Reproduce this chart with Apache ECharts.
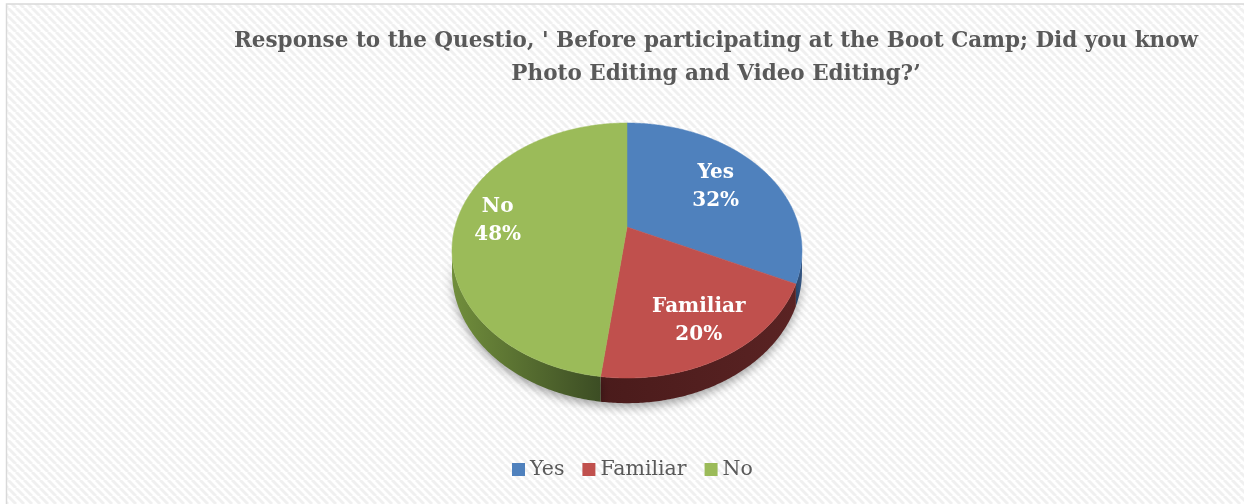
<!DOCTYPE html>
<html><head><meta charset="utf-8">
<script src="https://cdn.jsdelivr.net/npm/echarts@6/dist/echarts.min.js"></script>
<style>html,body{margin:0;padding:0;background:#fff}#c{width:1244px;height:504px}</style>
</head><body><div id="c"></div>
<script>
// ---- data ----
const categories = ['Yes', 'Familiar', 'No'];
const values = [32, 20, 48];
const titleLines = ["Response to the Questio, ' Before participating at the Boot Camp; Did you know", "Photo Editing and Video Editing?’"];

// ---- styles ----
const topColors = ['#4F81BD', '#C0504D', '#9BBB59'];
const wallColors = [['#2c4a70', '#345683'], ['#4a1b1b', '#5a2323'], ['#718e3c', '#3c4d24']];
const labelRadius = [0.65, 0.76, 0.76];
const FONT = 'DejaVu Serif';

const total = values.reduce((a, b) => a + b, 0);
const starts = [];
{ let acc = 0; values.forEach(v => { starts.push(acc); acc += v; }); }

// perspective pie geometry
const CX = 627, CY = 227, A = 172, B = 123.2, P = 0.1843, H = 20.5;
function proj(t, k, down) {
  const X = k * Math.sin(t), Z = k * Math.cos(t), d = 1 + P * Z;
  return [CX + A * X / d, CY - B * Z / d + (down ? H / d : 0)];
}
const TR = Math.acos(-P), TL = 2 * Math.PI - TR;

function arcPts(s, e, k, down) {
  const pts = [], n = Math.max(2, Math.ceil((e - s) / 0.01));
  for (let j = 0; j <= n; j++) pts.push(proj(s + (e - s) * j / n, k, down));
  return pts;
}

function makeRender(i) {
  return function (params, api) {
    const s0 = api.value(0), v = api.value(1);
    const s = s0 / total * 2 * Math.PI, e = (s0 + v) / total * 2 * Math.PI;
    const children = [];
    // side wall (front visible part)
    const ws = Math.max(s, TR), we = Math.min(e, TL);
    if (we > ws) {
      const topA = arcPts(ws, we, 1, false), botA = arcPts(ws, we, 1, true).reverse();
      const xs = topA.map(p => p[0]);
      const x1 = Math.min(...xs), x2 = Math.max(...xs);
      children.push({
        type: 'polygon', z2: 1,
        shape: { points: topA.concat(botA) },
        style: {
          fill: { type: 'linear', x: x1, y: 0, x2: x2, y2: 0, global: true,
            colorStops: [{ offset: 0, color: wallColors[i][0] }, { offset: 1, color: wallColors[i][1] }] },
          shadowBlur: 10, shadowColor: 'rgba(0,0,0,0.35)', shadowOffsetY: 4
        }
      });
    }
    // top face
    const pts = [proj(0, 0, false)].concat(arcPts(s, e, 1, false));
    children.push({ type: 'polygon', z2: 10, shape: { points: pts },
      style: { fill: topColors[i], stroke: topColors[i], lineWidth: 0.5 } });
    // label
    const mid = (s + e) / 2, lp = proj(mid, labelRadius[i], false);
    const pct = Math.round(v / total * 100);
    children.push({ type: 'text', z2: 20, x: lp[0], y: lp[1],
      style: { text: categories[i] + '\n' + pct + '%', fill: '#fff', align: 'center', verticalAlign: 'middle',
        font: 'bold 20px "' + FONT + '"', lineHeight: 28 } });
    return { type: 'group', children };
  };
}

// stripe pattern
const pc = document.createElement('canvas');
pc.width = 8; pc.height = 8;
{ const g = pc.getContext('2d'); g.fillStyle = '#ffffff'; g.fillRect(0, 0, 8, 8);
  g.strokeStyle = '#f0f0f0'; g.lineWidth = 3;
  for (const x of [-8, 0, 8]) { g.beginPath(); g.moveTo(x, 0); g.lineTo(x + 8, 8); g.stroke(); } }

const chart = echarts.init(document.getElementById('c'));
chart.setOption({
  animation: false,
  backgroundColor: '#ffffff',
  graphic: [{ type: 'rect', z: -10, silent: true, shape: { x: 6.5, y: 4, width: 1260, height: 520 },
    style: { fill: { image: pc, repeat: 'repeat' }, stroke: '#d9d9d9', lineWidth: 1.5 } }],
  title: { text: titleLines.join('\n'), left: 711, top: 20, textAlign: 'center',
    textStyle: { fontFamily: FONT, fontWeight: 'bold', fontSize: 21.5, color: '#595959', lineHeight: 33 } },
  legend: { data: categories, left: 507, top: 454, icon: 'rect', itemWidth: 13, itemHeight: 13, itemGap: 18,
    textStyle: { fontFamily: FONT, fontSize: 20.5, color: '#595959' } },
  series: categories.map((c, i) => ({
    type: 'custom', name: c, coordinateSystem: 'none', itemStyle: { color: topColors[i] },
    data: [[starts[i], values[i]]], renderItem: makeRender(i)
  }))
});
</script></body></html>
